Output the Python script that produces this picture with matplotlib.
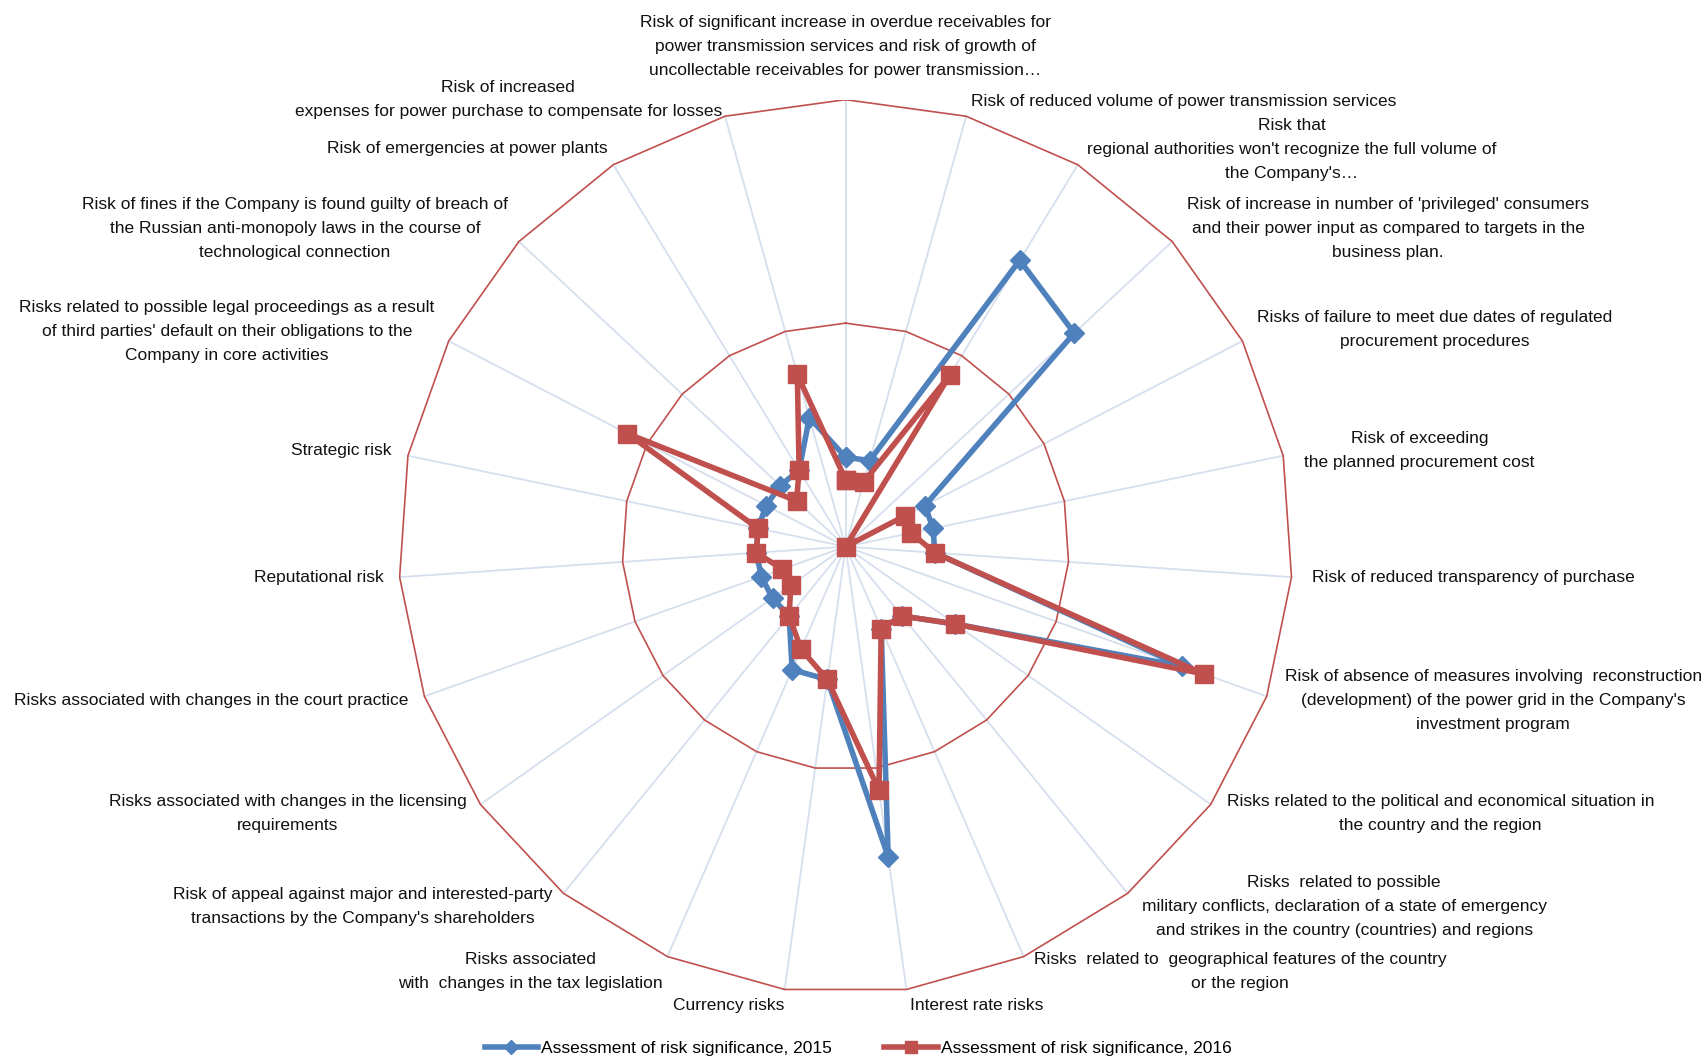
import numpy as np
import matplotlib
matplotlib.use("Agg")
import matplotlib.pyplot as plt
from matplotlib import font_manager
from matplotlib.lines import Line2D

categories = [
    "Risk of significant increase in overdue receivables for\npower transmission services and risk of growth of\nuncollectable receivables for power transmission…",
    "Risk of reduced volume of power transmission services",
    "Risk that\nregional authorities won't recognize the full volume of\nthe Company's…",
    "Risk of increase in number of 'privileged' consumers\nand their power input as compared to targets in the\nbusiness plan.",
    "Risks of failure to meet due dates of regulated\nprocurement procedures",
    "Risk of exceeding\nthe planned procurement cost",
    "Risk of reduced transparency of purchase",
    "Risk of absence of measures involving  reconstruction\n(development) of the power grid in the Company's\ninvestment program",
    "Risks related to the political and economical situation in\nthe country and the region",
    "Risks  related to possible\nmilitary conflicts, declaration of a state of emergency\nand strikes in the country (countries) and regions",
    "Risks  related to  geographical features of the country\nor the region",
    "Interest rate risks",
    "Currency risks",
    "Risks associated\nwith  changes in the tax legislation",
    "Risk of appeal against major and interested-party\ntransactions by the Company's shareholders",
    "Risks associated with changes in the licensing\nrequirements",
    "Risks associated with changes in the court practice",
    "Reputational risk",
    "Strategic risk",
    "Risks related to possible legal proceedings as a result\nof third parties' default on their obligations to the\nCompany in core activities",
    "Risk of fines if the Company is found guilty of breach of\nthe Russian anti-monopoly laws in the course of\ntechnological connection",
    "Risk of emergencies at power plants",
    "Risk of increased\nexpenses for power purchase to compensate for losses",
]

series_2015 = [0.20, 0.20, 0.75, 0.70, 0.20, 0.20, 0.20, 0.80, 0.30, 0.20, 0.20, 0.70,
               0.30, 0.30, 0.20, 0.20, 0.20, 0.20, 0.20, 0.20, 0.20, 0.20, 0.30]
series_2016 = [0.15, 0.15, 0.45, 0.00, 0.15, 0.15, 0.20, 0.85, 0.30, 0.20, 0.20, 0.55,
               0.30, 0.25, 0.20, 0.15, 0.15, 0.20, 0.20, 0.55, 0.15, 0.20, 0.40]
series_names = ["Assessment of risk significance, 2015", "Assessment of risk significance, 2016"]
ring_levels = [0.5, 1.0]
r_max = 1.0

# label offsets in pixels (dx, dy) and alignment, one per category
label_style = [
    (0, 22, "center", "bottom"),
    (5, 15, "left", "center"),
    (9, 15, "left", "center"),
    (15, 13, "left", "center"),
    (15, 12, "left", "center"),
    (21, 5, "left", "center"),
    (21, 0, "left", "center"),
    (18, -4, "left", "center"),
    (16, -9, "left", "center"),
    (14, -13, "left", "center"),
    (10, -15, "left", "center"),
    (4, -16, "left", "center"),
    (0, -16, "right", "center"),
    (-5, -15, "right", "center"),
    (-11, -13, "right", "center"),
    (-14, -9, "right", "center"),
    (-16, -4, "right", "center"),
    (-16, 0, "right", "center"),
    (-16, 5, "right", "center"),
    (-14, 10, "right", "center"),
    (-11, 13, "right", "center"),
    (-6, 16, "right", "center"),
    (-3, 17, "right", "center"),
]

available = {f.name for f in font_manager.fontManager.ttflist}
if "Liberation Sans Narrow" in available:
    FONT = "Liberation Sans Narrow"
    FS = 14.4
    LS = 1.2
else:
    FONT = "Liberation Sans"
    FS = 12.55
    LS = 1.75
plt.rcParams["font.family"] = [FONT, "DejaVu Sans"]

BLUE = "#4F81BD"
RED = "#C0504D"
SPOKE = "#D5DFEE"

fig = plt.figure(figsize=(17.07, 10.60), dpi=100)
ax = fig.add_axes([0.2335, 0.0626, 0.5237, 0.8434])
ax.set_xlim(-r_max, r_max)
ax.set_ylim(-r_max, r_max)
ax.set_aspect("equal", adjustable="box")
ax.axis("off")

n = len(categories)
theta = np.arange(n) * 2 * np.pi / n
sx, cy = np.sin(theta), np.cos(theta)

# spokes
for i in range(n):
    ax.plot([0, r_max * sx[i]], [0, r_max * cy[i]], color=SPOKE, lw=1.3, zorder=1)
# rings
for lv in ring_levels:
    xs = np.append(lv * sx, lv * sx[0])
    ys = np.append(lv * cy, lv * cy[0])
    ax.plot(xs, ys, color=RED, lw=1.2, zorder=2)

def draw(vals, color, marker, ms, z):
    v = np.asarray(vals)
    xs = np.append(v * sx, v[0] * sx[0])
    ys = np.append(v * cy, v[0] * cy[0])
    ax.plot(xs, ys, color=color, lw=4.0, marker=marker, ms=ms,
            markeredgecolor=color, markerfacecolor=color, zorder=z,
            solid_joinstyle="round")

draw(series_2015, BLUE, "D", 10, 3)
draw(series_2016, RED, "s", 13.5, 4)

for i, lab in enumerate(categories):
    dx, dy, ha, va = label_style[i]
    ax.annotate(lab, xy=(r_max * sx[i], r_max * cy[i]), xytext=(dx, dy),
                textcoords="offset pixels", ha=ha, va=va, multialignment="center",
                fontsize=FS, linespacing=LS, color="#111111", annotation_clip=False)

handles = [
    Line2D([], [], color=BLUE, lw=4.0, marker="D", ms=7, markeredgecolor=BLUE),
    Line2D([], [], color=RED, lw=4.0, marker="s", ms=9, markeredgecolor=RED),
]
fig.legend(handles, series_names, loc="center", bbox_to_anchor=(0.5028, 0.0113),
           ncol=2, frameon=False, fontsize=FS, handlelength=3.05,
           handletextpad=0.2, columnspacing=3.0, borderaxespad=0, borderpad=0)

fig.savefig("out.png", dpi=100)
